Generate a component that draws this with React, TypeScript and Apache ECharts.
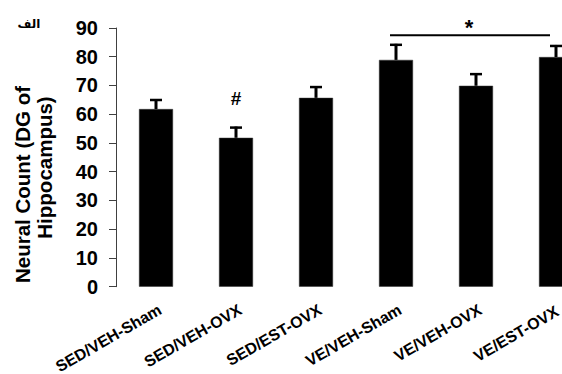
import React, { useEffect, useRef } from "react";
import * as echarts from "echarts";

const categories = [
  "SED/VEH-Sham",
  "SED/VEH-OVX",
  "SED/EST-OVX",
  "VE/VEH-Sham",
  "VE/VEH-OVX",
  "VE/EST-OVX",
];
const means = [61.8, 51.8, 65.7, 78.9, 69.9, 79.9];
const errors = [3.5, 3.9, 4.1, 5.6, 4.4, 4.2];
const yTicks = { min: 0, max: 90, interval: 10 };
const hashMarks = [{ index: 1, label: "#" }];
const bracket = { from: 3, to: 5, value: 87.5, label: "*" };
const yTitleLines = ["Neural Count (DG of", "Hippocampus)"];
const panelLabel = "الف";

const FONT = "Arial";

export default function App() {
  const ref = useRef<HTMLDivElement>(null);
  useEffect(() => {
    if (!ref.current) return;
    const chart = echarts.init(ref.current, undefined, { renderer: "svg" });
    const errData = means.map((m, i) => [i, m, errors[i]]);
    const hashData = hashMarks.map((h) => [h.index, means[h.index] + errors[h.index], h.label]);
    const catData = categories.map((c, i) =>
      i === categories.length - 1
        ? { value: c, textStyle: { padding: [0, -1.5, 0, 0] } }
        : c
    );
    const txt = (extra: any) => ({
      fontWeight: "bold",
      fontFamily: FONT,
      fill: "#000",
      align: "center",
      verticalAlign: "middle",
      textAlign: "center",
      textVerticalAlign: "middle",
      ...extra,
    });
    const option: any = {
      animation: false,
      backgroundColor: "#fff",
      textStyle: { fontFamily: FONT },
      grid: {
        left: 116,
        right: -34,
        top: 28,
        bottom: 87.3,
        containLabel: false,
        outerBoundsMode: "none",
      },
      xAxis: {
        type: "category",
        data: catData,
        axisLine: { show: false },
        axisTick: { show: false },
        axisLabel: {
          rotate: 30,
          margin: 24,
          padding: [0, -4.8, 0, 0],
          color: "#000",
          fontFamily: FONT,
          fontWeight: "bold",
          fontSize: 16,
          interval: 0,
        },
      },
      yAxis: {
        type: "value",
        min: yTicks.min,
        max: yTicks.max,
        interval: yTicks.interval,
        splitLine: { show: false },
        axisLine: { show: true, lineStyle: { color: "#404040", width: 1 } },
        axisTick: { show: true, length: 7, lineStyle: { color: "#404040", width: 1 } },
        axisLabel: {
          margin: 18,
          color: "#000",
          fontFamily: FONT,
          fontWeight: "bold",
          fontSize: 20,
        },
      },
      series: [
        {
          type: "bar",
          data: means,
          barWidth: 34,
          itemStyle: { color: "#000", borderColor: "#333", borderWidth: 0.5 },
        },
        {
          type: "custom",
          data: errData,
          z: 3,
          renderItem: (params: any, api: any) => {
            const x = api.value(0);
            const m = api.value(1);
            const e = api.value(2);
            const base = api.coord([x, m]);
            const top = api.coord([x, m + e]);
            return {
              type: "group",
              children: [
                {
                  type: "line",
                  shape: { x1: top[0], y1: base[1], x2: top[0], y2: top[1] },
                  style: { stroke: "#000", lineWidth: 3 },
                },
                {
                  type: "line",
                  shape: { x1: top[0] - 6, y1: top[1] + 1, x2: top[0] + 6, y2: top[1] + 1 },
                  style: { stroke: "#000", lineWidth: 2.5 },
                },
              ],
            };
          },
        },
        {
          type: "custom",
          data: hashData,
          z: 3,
          renderItem: (params: any, api: any) => {
            const p = api.coord([api.value(0), api.value(1)]);
            return {
              type: "text",
              x: p[0],
              y: p[1] - 28,
              style: txt({ text: hashData[params.dataIndex][2], fontSize: 19 }),
            };
          },
        },
        {
          type: "custom",
          data: [[bracket.from, bracket.to, bracket.value]],
          z: 3,
          renderItem: (params: any, api: any) => {
            const a = api.coord([api.value(0), api.value(2)]);
            const b = api.coord([api.value(1), api.value(2)]);
            const x1 = a[0] - 6;
            const x2 = b[0] - 6;
            return {
              type: "group",
              children: [
                {
                  type: "line",
                  shape: { x1, y1: a[1], x2, y2: a[1] },
                  style: { stroke: "#000", lineWidth: 2 },
                },
                {
                  type: "text",
                  x: (x1 + x2) / 2 - 1,
                  y: a[1] - 8,
                  style: txt({ text: bracket.label, fontSize: 22 }),
                },
              ],
            };
          },
        },
      ],
      graphic: [
        {
          type: "text",
          x: 22,
          y: 184.5,
          rotation: Math.PI / 2,
          style: txt({ text: yTitleLines[0], fontSize: 20.5 }),
        },
        {
          type: "text",
          x: 44,
          y: 167.5,
          rotation: Math.PI / 2,
          style: txt({ text: yTitleLines[1], fontSize: 20.5 }),
        },
        {
          type: "text",
          x: 29,
          y: 24,
          style: txt({ text: panelLabel, fontSize: 12, fontFamily: "'DejaVu Sans', sans-serif" }),
        },
      ],
    };
    chart.setOption(option);
    return () => chart.dispose();
  }, []);
  return (
    <div
      ref={ref}
      style={{ position: "fixed", left: 0, top: 0, width: 562, height: 374 }}
    />
  );
}
